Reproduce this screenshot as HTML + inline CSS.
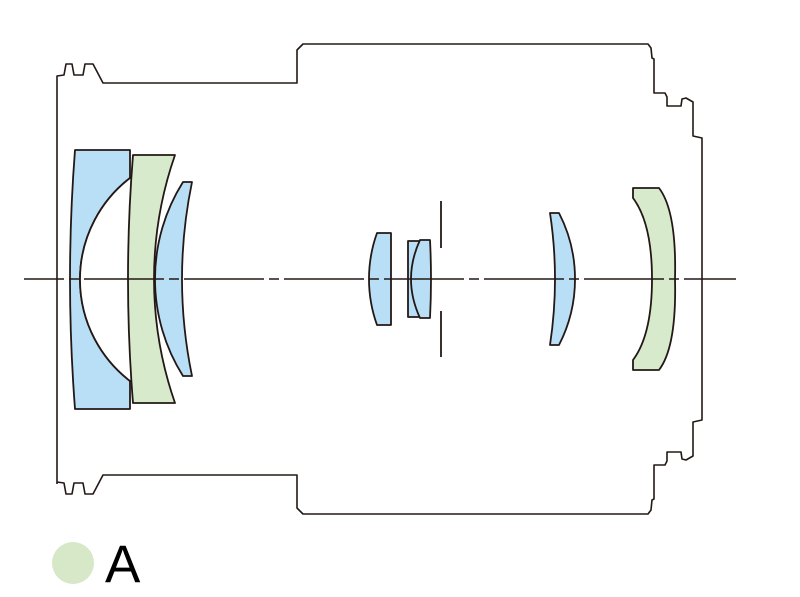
<!DOCTYPE html>
<html><head><meta charset="utf-8"><style>
html,body{margin:0;padding:0;background:#fff;}
svg{display:block;}
</style></head><body>
<svg width="800" height="597" viewBox="0 0 800 597" xmlns="http://www.w3.org/2000/svg">
<g fill="none" stroke="#231815" stroke-width="1.6" stroke-linejoin="round">
<path d="M57,484 L57,76 L64,75 L66,64 L72,64 L74,75 L83,75 L85,64 L93,64 L103,83 L297,83 L297,50 L303,44 L648,44 L651,48 L652,58 L654,59 L654,93 L665,93 L667,97 L667,106 L681,106 L682,99 L686,98 L693,102 L693,136 L702,138 L702,420 L693,422 L693,456 L686,460 L682,459 L681,452 L667,452 L667,461 L665,465 L654,465 L654,499 L652,500 L651,510 L648,514 L303,514 L297,508 L297,475 L103,475 L93,494 L85,494 L83,483 L74,483 L72,494 L66,494 L64,483 L57,482"/>
</g>
<g stroke="#231815" stroke-width="1.8" stroke-linejoin="round">
<path fill="#b8dff5" d="M75,150 L130,150 L130,178 A128,128 0 0 0 130,381 L130,409 L75,409 Q65,279 75,150 Z"/>
<path fill="#fff" d="M130,178 A128,128 0 0 0 130,381 Z" stroke="none"/>
<path fill="none" d="M130,178 A128,128 0 0 0 130,381"/>
<path fill="#d8eacc" d="M133,155 L175,155 A377,377 0 0 0 175,403 L133,403 Q123,279 133,155 Z"/>
<path fill="#b8dff5" d="M183,182 L192,182 Q172,279 192,376 L183,376 A182,182 0 0 1 183,182 Z"/>
<path fill="#b8dff5" d="M377,233 L391,233 L391,325 L377,325 A136,136 0 0 1 377,233 Z"/>
<rect x="408" y="241" width="12" height="76" fill="#b8dff5"/>
<path fill="#b8dff5" d="M420,240 L430,240 Q432,279 430,318 L420,318 Q402,279 420,240 Z"/>
<path fill="#b8dff5" d="M550,213 L559,213 A144,144 0 0 1 559,345 L550,345 Q560,279 550,213 Z"/>
<path fill="#d8eacc" d="M633,188 L659,188 C672,205 676,240 675,279 C676,318 672,353 659,370 L633,370 L633,360 C648,340 652,310 652,279 C652,248 648,218 633,198 Z"/>
</g>
<line x1="441" y1="201" x2="441" y2="248" stroke="#231815" stroke-width="1.8"/>
<line x1="441" y1="311" x2="441" y2="357" stroke="#231815" stroke-width="1.8"/>
<line x1="24" y1="279" x2="736" y2="279" stroke="#231815" stroke-width="1.5" stroke-dasharray="80 5 10 5" stroke-dashoffset="40"/>
<circle cx="73" cy="563" r="21" fill="#d6e8c8"/>
<text x="105" y="582" font-family="Liberation Sans, sans-serif" font-size="53" fill="#000">A</text>
</svg>
</body></html>
